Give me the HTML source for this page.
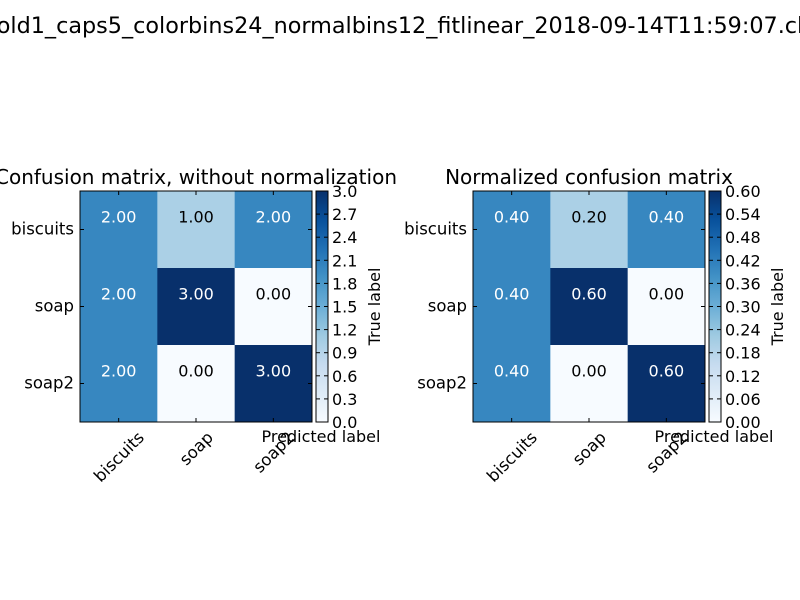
<!DOCTYPE html>
<html><head><meta charset="utf-8">
<style>
html,body{margin:0;padding:0;background:#fff;}
svg{display:block;font-family:"DejaVu Sans","Liberation Sans",sans-serif;}
</style></head>
<body>
<svg id="chart" width="800" height="600" viewBox="0 0 800 600" xmlns="http://www.w3.org/2000/svg">
<defs>
<linearGradient id="blues" x1="0" y1="1" x2="0" y2="0">
<stop offset="0" stop-color="#f7fbff"/>
<stop offset="0.125" stop-color="#deebf7"/>
<stop offset="0.25" stop-color="#c6dbef"/>
<stop offset="0.375" stop-color="#9ecae1"/>
<stop offset="0.5" stop-color="#6baed6"/>
<stop offset="0.625" stop-color="#4292c6"/>
<stop offset="0.75" stop-color="#2171b5"/>
<stop offset="0.875" stop-color="#08519c"/>
<stop offset="1" stop-color="#08306b"/>
</linearGradient>
</defs>
<text x="400" y="33" text-anchor="middle" font-size="22.3">fold1_caps5_colorbins24_normalbins12_fitlinear_2018-09-14T11:59:07.clf</text>
<g id="plots"></g>
</svg>
<script>
const classes = ["biscuits","soap","soap2"];
const countsMatrix = [[2,1,2],[2,3,0],[2,0,3]];
const normMatrix = [[0.4,0.2,0.4],[0.4,0.6,0.0],[0.4,0.0,0.6]];
const countsTicks = ["0.0","0.3","0.6","0.9","1.2","1.5","1.8","2.1","2.4","2.7","3.0"];
const normTicks = ["0.00","0.06","0.12","0.18","0.24","0.30","0.36","0.42","0.48","0.54","0.60"];

const NS="http://www.w3.org/2000/svg";
function mk(tag, attrs, parent){const e=document.createElementNS(NS,tag);for(const k in attrs)e.setAttribute(k,attrs[k]);parent.appendChild(e);return e;}
function blues(t){
  const stops=[[247,251,255],[222,235,247],[198,219,239],[158,202,225],[107,174,214],[66,146,198],[33,113,181],[8,81,156],[8,48,107]];
  t=Math.max(0,Math.min(1,t));const p=t*8;const i=Math.min(7,Math.floor(p));const f=p-i;
  const c=stops[i].map((v,j)=>Math.round(v+(stops[i+1][j]-v)*f));
  return "rgb("+c.join(",")+")";
}
const root=document.getElementById('plots');
function drawPanel(name, mat, ticks, vmax, fmt, ax, title, trueOff){
  const x0=ax, y0=191, W=232, H=231, n=classes.length, cw=W/n, ch=H/n;
  const g=mk('g',{},root);
  
  
  const xs=j=>x0+j*cw, ys=i=>y0+i*ch;
  const t=mk('text',{x:x0+W/2,y:184,'text-anchor':'middle','font-size':20},g);
  
  
  t.textContent=title;
  for(let i=0;i<n;i++)for(let j=0;j<n;j++){
    const v=mat[i][j];
    const r=mk('rect',{x:xs(j),y:ys(i),width:cw+0.5,height:ch+0.5,fill:blues(v/vmax)},g);
    
    
    const tx=mk('text',{x:xs(j)+cw/2,y:ys(i)+ch/2-7,'text-anchor':'middle','font-size':16,fill:v>vmax/2?'#fff':'#000'},g);
    
    
    tx.textContent=fmt(v);
  }
  const fr=mk('rect',{x:x0,y:y0,width:W,height:H,fill:'none',stroke:'#000','stroke-width':1},g);
  
  
  for(let k=0;k<n;k++){
    const cx=xs(k)+cw/2, cy=ys(k)+ch/2;
    mk('line',{x1:cx,y1:y0+H,x2:cx,y2:y0+H-4,stroke:'#000'},g);
    mk('line',{x1:cx,y1:y0,x2:cx,y2:y0+4,stroke:'#000'},g);
    mk('line',{x1:x0,y1:cy,x2:x0+4,y2:cy,stroke:'#000'},g);
    mk('line',{x1:x0+W,y1:cy,x2:x0+W-4,y2:cy,stroke:'#000'},g);
    const yl=mk('text',{x:x0-6,y:cy+5,'text-anchor':'end','font-size':16.5},g);
    
    
    yl.textContent=classes[k];
    const xl=mk('text',{x:0,y:0,'text-anchor':'middle','font-size':16.5},g);
    
    
    xl.textContent=classes[k];
    const w=xl.getComputedTextLength(), h=12;
    const ccy=y0+H+8+(w+h)*0.354;
    xl.setAttribute('transform',`translate(${cx},${ccy}) rotate(-45) translate(0,6)`);
  }
  const cbx=x0+W+4, cbw=12;
  const cb=mk('rect',{x:cbx,y:y0,width:cbw,height:H,fill:'url(#blues)',stroke:'#000','stroke-width':1},g);
  
  
  ticks.forEach((lab,k)=>{
    const ty=y0+H-(k/(ticks.length-1))*H;
    mk('line',{x1:cbx+cbw-4,y1:ty,x2:cbx+cbw,y2:ty,stroke:'#000'},g);
    mk('line',{x1:cbx,y1:ty,x2:cbx+4,y2:ty,stroke:'#000'},g);
    const tl=mk('text',{x:cbx+cbw+4,y:ty+6,'font-size':16},g);
    
    
    tl.textContent=lab;
  });
  const tlab=mk('text',{x:0,y:0,'text-anchor':'middle','font-size':16,transform:`translate(${cbx+cbw+trueOff},${y0+H/2}) rotate(-90)`},g);
  
  
  tlab.textContent='True label';
  const plab=mk('text',{x:x0+W+9,y:442,'text-anchor':'middle','font-size':16},g);
  
  
  plab.textContent='Predicted label';
}
drawPanel('counts-matrix',countsMatrix,countsTicks,3,v=>v.toFixed(2),80,'Confusion matrix, without normalization',52);
drawPanel('normalized-matrix',normMatrix,normTicks,0.6,v=>v.toFixed(2),473,'Normalized confusion matrix',62);
</script>
</body></html>
